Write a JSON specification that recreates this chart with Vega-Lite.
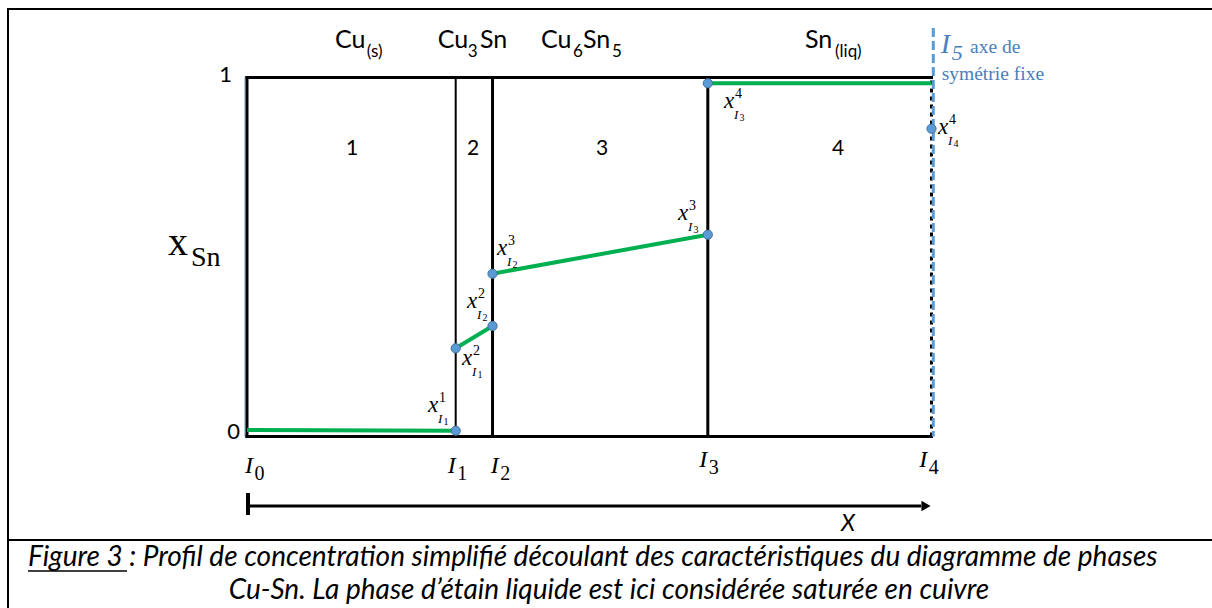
{
  "$schema": "https://vega.github.io/schema/vega-lite/v6.json",
  "width": 1212,
  "height": 608,
  "autosize": {"type": "none"},
  "padding": 0,
  "background": "white",
  "config": {"view": {"stroke": null}},
  "datasets": {
    "frame": [
      {"x": -0.34916, "x2": 1.40979, "y": 1.19081, "y2": 1.19081},
      {"x": -0.34916, "x2": -0.34916, "y": 1.19081, "y2": -0.47772},
      {"x": -0.34916, "x2": 1.40979, "y": -0.2883, "y2": -0.2883}
    ],
    "box": [
      {"x": 0, "x2": 1, "y": 1, "y2": 1},
      {"x": 0, "x2": 1, "y": 0, "y2": 0},
      {"x": 0, "x2": 0, "y": 0, "y2": 1},
      {"x": 0.3587, "x2": 0.3587, "y": 0, "y2": 1},
      {"x": 0.6732, "x2": 0.6732, "y": 0, "y2": 1}
    ],
    "thin": [
      {"x": 0.3049, "x2": 0.3049, "y": 0, "y2": 1}
    ],
    "rightedge": [
      {"x": 1, "x2": 1, "y": 0, "y2": 1}
    ],
    "symaxis": [
      {"x": 1.00263, "x2": 1.00263, "y": 1.13788, "y2": 0}
    ],
    "leftblue": [
      {"x": -0.00292, "x2": -0.00292, "y": 0, "y2": 1}
    ],
    "arrowline": [
      {"x": 0, "x2": 0.985, "y": -0.19359, "y2": -0.19359}
    ],
    "arrowtick": [
      {"x": 0.00146, "x2": 0.00146, "y": -0.15738, "y2": -0.21866}
    ],
    "arrowhead": [
      {"x": 0.99196, "y": -0.19359}
    ],
    "underline": [
      {"x": -0.31994, "x2": -0.17531, "y": -0.37465, "y2": -0.37465}
    ],
    "profile": [
      {"seg": "a", "x": 0, "y": 0.018},
      {"seg": "a", "x": 0.3049, "y": 0.01616},
      {"seg": "b", "x": 0.3049, "y": 0.24568},
      {"seg": "b", "x": 0.3587, "y": 0.3078},
      {"seg": "c", "x": 0.3587, "y": 0.45348},
      {"seg": "c", "x": 0.6732, "y": 0.56212},
      {"seg": "d", "x": 0.6732, "y": 0.98384},
      {"seg": "d", "x": 1.0, "y": 0.98384}
    ],
    "points": [
      {"x": 0.3049, "y": 0.01616},
      {"x": 0.3049, "y": 0.24568},
      {"x": 0.3587, "y": 0.3078},
      {"x": 0.3587, "y": 0.45348},
      {"x": 0.6732, "y": 0.56212},
      {"x": 0.6732, "y": 0.98384},
      {"x": 1.0, "y": 0.85738}
    ],
    "xlabels": [
      {"x": 0.26443, "y": 0.06825, "sup": "1", "sub": "1"},
      {"x": 0.3141, "y": 0.19916, "sup": "2", "sub": "1"},
      {"x": 0.3214, "y": 0.35794, "sup": "2", "sub": "2"},
      {"x": 0.36523, "y": 0.50557, "sup": "3", "sub": "2"},
      {"x": 0.62966, "y": 0.60306, "sup": "3", "sub": "3"},
      {"x": 0.69686, "y": 0.91504, "sup": "4", "sub": "3"},
      {"x": 1.0095, "y": 0.84262, "sup": "4", "sub": "4"}
    ],
    "ilabels": [
      {"x": -0.00292, "y": -0.10167, "d": "0"},
      {"x": 0.29321, "y": -0.10167, "d": "1"},
      {"x": 0.35603, "y": -0.10167, "d": "2"},
      {"x": 0.66078, "y": -0.08496, "d": "3"},
      {"x": 0.98218, "y": -0.08496, "d": "4"}
    ],
    "chem": [
      {"x": 0.12856, "y": 1.08134, "t": "Cu"},
      {"x": 0.2786, "y": 1.08134, "t": "Cu"},
      {"x": 0.34039, "y": 1.08134, "t": "Sn"},
      {"x": 0.42951, "y": 1.08134, "t": "Cu"},
      {"x": 0.49087, "y": 1.08134, "t": "Sn"},
      {"x": 0.81519, "y": 1.08134, "t": "Sn"}
    ],
    "chemsub": [
      {"x": 0.17487, "y": 1.0571, "t": "(s)"},
      {"x": 0.32243, "y": 1.0571, "t": "3"},
      {"x": 0.47626, "y": 1.0571, "t": "6"},
      {"x": 0.53324, "y": 1.0571, "t": "5"},
      {"x": 0.85902, "y": 1.0571, "t": "(liq)"}
    ],
    "regions": [
      {"x": 0.1534, "y": 0.78412, "t": "1"},
      {"x": 0.33017, "y": 0.78412, "t": "2"},
      {"x": 0.51863, "y": 0.78412, "t": "3"},
      {"x": 0.8634, "y": 0.78412, "t": "4"}
    ],
    "ticks": [
      {"x": -0.02191, "y": 0.98747, "t": "1"},
      {"x": -0.01023, "y": -0.00696, "t": "0"}
    ],
    "ylab": [{"x": -0.11541, "y": 0.50557, "t": "x"}],
    "ylabsub": [{"x": -0.08181, "y": 0.47632, "t": "Sn"}],
    "i5": [{"x": 1.01344, "y": 1.06825, "t": "I", "d": "5"}],
    "bluetext": [
      {"x": 1.05625, "y": 1.06825, "t": "axe de"},
      {"x": 1.0149, "y": 0.99304, "t": "symétrie fixe"}
    ],
    "xlab": [{"x": 0.87801, "y": -0.26323, "t": "X"}],
    "cap1": [{"x": -0.31994, "y": -0.36072, "t": "Figure 3 : Profil de concentration simplifié découlant des caractéristiques du diagramme de phases"}],
    "cap2": [{"x": 0.52885, "y": -0.45265, "t": "Cu-Sn. La phase d’étain liquide est ici considérée saturée en cuivre"}]
  },
  "encoding": {
    "x": {"field": "x", "type": "quantitative", "axis": null, "scale": {"domain": [-0.36085, 1.40979], "nice": false, "zero": false}},
    "y": {"field": "y", "type": "quantitative", "axis": null, "scale": {"domain": [-0.47772, 1.21588], "nice": false, "zero": false}}
  },
  "layer": [
    {"data": {"name": "frame"}, "mark": {"type": "rule", "color": "black", "strokeWidth": 2, "strokeCap": "square"}, "encoding": {"x2": {"field": "x2"}, "y2": {"field": "y2"}}},
    {"data": {"name": "leftblue"}, "mark": {"type": "rule", "color": "#5B9BD5", "strokeWidth": 1}, "encoding": {"x2": {"field": "x2"}, "y2": {"field": "y2"}}},
    {"data": {"name": "box"}, "mark": {"type": "rule", "color": "black", "strokeWidth": 3, "strokeCap": "square"}, "encoding": {"x2": {"field": "x2"}, "y2": {"field": "y2"}}},
    {"data": {"name": "thin"}, "mark": {"type": "rule", "color": "black", "strokeWidth": 2}, "encoding": {"x2": {"field": "x2"}, "y2": {"field": "y2"}}},
    {"data": {"name": "rightedge"}, "mark": {"type": "rule", "color": "black", "strokeWidth": 3, "strokeDash": [4, 4]}, "encoding": {"x2": {"field": "x2"}, "y2": {"field": "y2"}}},
    {"data": {"name": "symaxis"}, "mark": {"type": "rule", "color": "#5B9BD5", "strokeWidth": 3, "strokeDash": [9, 4]}, "encoding": {"x2": {"field": "x2"}, "y2": {"field": "y2"}}},
    {"data": {"name": "profile"}, "mark": {"type": "line", "color": "#00B050", "strokeWidth": 4}, "encoding": {"detail": {"field": "seg"}}},
    {"data": {"name": "points"}, "mark": {"type": "point", "filled": true, "fill": "#5B9BD5", "stroke": "#41719C", "strokeWidth": 1, "opacity": 1, "size": 85}},
    {"data": {"name": "arrowline"}, "mark": {"type": "rule", "color": "black", "strokeWidth": 3}, "encoding": {"x2": {"field": "x2"}, "y2": {"field": "y2"}}},
    {"data": {"name": "arrowtick"}, "mark": {"type": "rule", "color": "black", "strokeWidth": 4}, "encoding": {"x2": {"field": "x2"}, "y2": {"field": "y2"}}},
    {"data": {"name": "arrowhead"}, "mark": {"type": "point", "shape": "triangle-right", "filled": true, "color": "black", "opacity": 1, "size": 110}},
    {"data": {"name": "underline"}, "mark": {"type": "rule", "color": "black", "strokeWidth": 1.5}, "encoding": {"x2": {"field": "x2"}, "y2": {"field": "y2"}}},
    {"data": {"name": "xlabels"}, "mark": {"type": "text", "text": "x", "font": "Liberation Serif", "fontStyle": "italic", "fontSize": 23, "align": "left", "baseline": "alphabetic", "color": "black"}},
    {"data": {"name": "xlabels"}, "mark": {"type": "text", "font": "Liberation Serif", "fontSize": 14, "align": "left", "baseline": "alphabetic", "color": "black", "dx": 11, "dy": -10}, "encoding": {"text": {"field": "sup"}}},
    {"data": {"name": "xlabels"}, "mark": {"type": "text", "text": "I", "font": "Liberation Serif", "fontStyle": "italic", "fontSize": 13, "align": "left", "baseline": "alphabetic", "color": "black", "dx": 10, "dy": 11}},
    {"data": {"name": "xlabels"}, "mark": {"type": "text", "font": "Liberation Serif", "fontSize": 10, "align": "left", "baseline": "alphabetic", "color": "black", "dx": 15.5, "dy": 13}, "encoding": {"text": {"field": "sub"}}},
    {"data": {"name": "ilabels"}, "mark": {"type": "text", "text": "I", "font": "Liberation Serif", "fontStyle": "italic", "fontSize": 24, "align": "left", "baseline": "alphabetic", "color": "black"}},
    {"data": {"name": "ilabels"}, "mark": {"type": "text", "font": "Liberation Serif", "fontSize": 20, "align": "left", "baseline": "alphabetic", "color": "black", "dx": 9.5, "dy": 7}, "encoding": {"text": {"field": "d"}}},
    {"data": {"name": "i5"}, "mark": {"type": "text", "font": "Liberation Serif", "fontStyle": "italic", "fontSize": 28, "align": "left", "baseline": "alphabetic", "color": "#4A7EBB"}, "encoding": {"text": {"field": "t"}}},
    {"data": {"name": "i5"}, "mark": {"type": "text", "font": "Liberation Serif", "fontStyle": "italic", "fontSize": 22, "align": "left", "baseline": "alphabetic", "color": "#4A7EBB", "dx": 11, "dy": 7}, "encoding": {"text": {"field": "d"}}},
    {"data": {"name": "bluetext"}, "mark": {"type": "text", "font": "Liberation Serif", "fontSize": 19.5, "align": "left", "baseline": "alphabetic", "color": "#4A7EBB"}, "encoding": {"text": {"field": "t"}}},
    {"data": {"name": "chem"}, "mark": {"type": "text", "font": "Lato", "fontSize": 25, "align": "left", "baseline": "alphabetic", "color": "black"}, "encoding": {"text": {"field": "t"}}},
    {"data": {"name": "chemsub"}, "mark": {"type": "text", "font": "Lato", "fontSize": 17, "align": "left", "baseline": "alphabetic", "color": "black"}, "encoding": {"text": {"field": "t"}}},
    {"data": {"name": "regions"}, "mark": {"type": "text", "font": "Lato", "fontSize": 21, "align": "center", "baseline": "alphabetic", "color": "black"}, "encoding": {"text": {"field": "t"}}},
    {"data": {"name": "ticks"}, "mark": {"type": "text", "font": "Lato", "fontSize": 22, "align": "right", "baseline": "alphabetic", "color": "black"}, "encoding": {"text": {"field": "t"}}},
    {"data": {"name": "ylab"}, "mark": {"type": "text", "font": "Liberation Serif", "fontSize": 40, "align": "left", "baseline": "alphabetic", "color": "black"}, "encoding": {"text": {"field": "t"}}},
    {"data": {"name": "ylabsub"}, "mark": {"type": "text", "font": "Liberation Serif", "fontSize": 28, "align": "left", "baseline": "alphabetic", "color": "black"}, "encoding": {"text": {"field": "t"}}},
    {"data": {"name": "xlab"}, "mark": {"type": "text", "font": "Lato", "fontStyle": "italic", "fontSize": 23, "align": "center", "baseline": "alphabetic", "color": "black"}, "encoding": {"text": {"field": "t"}}},
    {"data": {"name": "cap1"}, "mark": {"type": "text", "font": "Lato", "fontStyle": "italic", "fontSize": 28, "align": "left", "baseline": "alphabetic", "color": "black"}, "encoding": {"text": {"field": "t"}}},
    {"data": {"name": "cap2"}, "mark": {"type": "text", "font": "Lato", "fontStyle": "italic", "fontSize": 28, "align": "center", "baseline": "alphabetic", "color": "black"}, "encoding": {"text": {"field": "t"}}}
  ]
}
